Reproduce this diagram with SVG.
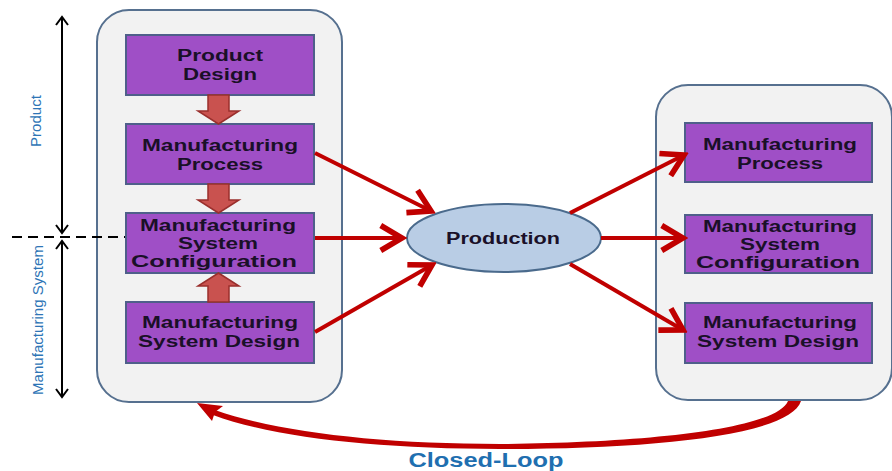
<svg xmlns="http://www.w3.org/2000/svg" width="892" height="471" viewBox="0 0 892 471">
<style>
.cont{fill:#f2f2f2;stroke:#56708f;stroke-width:2}
.box{fill:#9f4fc6;stroke:#4f5f8a;stroke-width:2}
.bt{font-family:"Liberation Sans",Arial,sans-serif;font-weight:bold;font-size:16px;fill:#1a1028;text-anchor:middle}
.blk{fill:#c9524f;stroke:#9a2f2d;stroke-width:1.5}
.red{stroke:#c00000;stroke-width:4;fill:none}
.side{font-family:"Liberation Sans",Arial,sans-serif;font-size:15px;fill:#2e75b6;text-anchor:middle}
</style>
<defs>
<marker id="rh" markerUnits="userSpaceOnUse" markerWidth="30" markerHeight="30" viewBox="-20 -12 24 24" refX="0" refY="0" orient="auto">
<path d="M-17,-10 L0,0 L-17,10" fill="none" stroke="#c00000" stroke-width="4.5"/>
</marker>
<marker id="bh" markerUnits="userSpaceOnUse" markerWidth="16" markerHeight="16" viewBox="-10 -8 12 16" refX="0" refY="0" orient="auto-start-reverse">
<path d="M-8,-6 L0,0 L-8,6" fill="none" stroke="#000" stroke-width="2"/>
</marker>
</defs>
<rect width="892" height="471" fill="#fff"/>
<g id="left-container"><rect class="cont" x="97" y="10" width="245" height="392" rx="32"/></g>
<g id="right-container"><rect class="cont" x="656" y="85" width="236" height="315" rx="32"/></g>
<g id="axis">
<line x1="62" y1="17" x2="62" y2="233" stroke="#000" stroke-width="2" marker-start="url(#bh)" marker-end="url(#bh)"/>
<line x1="62" y1="241" x2="62" y2="397" stroke="#000" stroke-width="2" marker-start="url(#bh)" marker-end="url(#bh)"/>
<line x1="12" y1="237" x2="126" y2="237" stroke="#000" stroke-width="2" stroke-dasharray="10,6"/>
<text class="side" transform="translate(41,121) rotate(-90)" textLength="52" lengthAdjust="spacingAndGlyphs">Product</text>
<text class="side" transform="translate(43,320) rotate(-90)" textLength="150" lengthAdjust="spacingAndGlyphs">Manufacturing System</text>
</g>
<g id="product-design"><rect class="box" x="126" y="35" width="188" height="60"/>
<text class="bt" x="220" y="61" textLength="86" lengthAdjust="spacingAndGlyphs">Product</text>
<text class="bt" x="220" y="80" textLength="74" lengthAdjust="spacingAndGlyphs">Design</text></g>
<g id="mfg-process-l"><rect class="box" x="126" y="124" width="188" height="60"/>
<text class="bt" x="220" y="151" textLength="156" lengthAdjust="spacingAndGlyphs">Manufacturing</text>
<text class="bt" x="220" y="170" textLength="86" lengthAdjust="spacingAndGlyphs">Process</text></g>
<g id="msc-l"><rect class="box" x="126" y="213" width="188" height="60"/>
<text class="bt" x="218" y="231" textLength="156" lengthAdjust="spacingAndGlyphs">Manufacturing</text>
<text class="bt" x="218" y="249" textLength="80" lengthAdjust="spacingAndGlyphs">System</text>
<text class="bt" x="214" y="267" textLength="166" lengthAdjust="spacingAndGlyphs">Configuration</text></g>
<g id="msd-l"><rect class="box" x="126" y="302" width="188" height="61"/>
<text class="bt" x="220" y="328" textLength="156" lengthAdjust="spacingAndGlyphs">Manufacturing</text>
<text class="bt" x="219" y="347" textLength="162" lengthAdjust="spacingAndGlyphs">System Design</text></g>
<g id="block-arrows">
<path class="blk" d="M208,95 H229 V111 H239 L218.5,124 L198,111 H208 Z"/>
<path class="blk" d="M208,184 H229 V200 H239 L218.5,213 L198,200 H208 Z"/>
<path class="blk" d="M208,302 H229 V286 H239 L218.5,273 L198,286 H208 Z"/>
</g>
<g id="production"><ellipse cx="504" cy="238" rx="97" ry="34" fill="#b9cde5" stroke="#4a6a8c" stroke-width="2"/>
<text class="bt" x="503" y="244" textLength="114" lengthAdjust="spacingAndGlyphs">Production</text></g>
<g id="mfg-process-r"><rect class="box" x="685" y="123" width="187" height="59"/>
<text class="bt" x="780" y="150" textLength="154" lengthAdjust="spacingAndGlyphs">Manufacturing</text>
<text class="bt" x="780" y="169" textLength="86" lengthAdjust="spacingAndGlyphs">Process</text></g>
<g id="msc-r"><rect class="box" x="685" y="215" width="187" height="58"/>
<text class="bt" x="780" y="232" textLength="154" lengthAdjust="spacingAndGlyphs">Manufacturing</text>
<text class="bt" x="780" y="250" textLength="80" lengthAdjust="spacingAndGlyphs">System</text>
<text class="bt" x="778" y="268" textLength="164" lengthAdjust="spacingAndGlyphs">Configuration</text></g>
<g id="msd-r"><rect class="box" x="685" y="303" width="187" height="60"/>
<text class="bt" x="780" y="328" textLength="154" lengthAdjust="spacingAndGlyphs">Manufacturing</text>
<text class="bt" x="778" y="347" textLength="162" lengthAdjust="spacingAndGlyphs">System Design</text></g>
<g id="connectors">
<line class="red" x1="315" y1="153" x2="431" y2="211" marker-end="url(#rh)"/>
<line class="red" x1="315" y1="238" x2="402" y2="238" marker-end="url(#rh)"/>
<line class="red" x1="315" y1="332" x2="432" y2="265" marker-end="url(#rh)"/>
<line class="red" x1="570" y1="213" x2="684" y2="155" marker-end="url(#rh)"/>
<line class="red" x1="601" y1="238" x2="683" y2="238" marker-end="url(#rh)"/>
<line class="red" x1="570" y1="264" x2="683" y2="330" marker-end="url(#rh)"/>
<path d="M801,401 C790,436 650,449 500,449 C380,449 275,438 213,415 L215,410 C277,432 380,444 500,444 C640,443 776,430 788,401 Z" fill="#c00000"/>
<path d="M197,403 L223,406 L215,412 L212,421 Z" fill="#c00000"/>
</g>
<text x="486" y="467" font-family="Liberation Sans,Arial,sans-serif" font-weight="bold" font-size="20" fill="#1f6fb0" text-anchor="middle" textLength="155" lengthAdjust="spacingAndGlyphs">Closed-Loop</text>
</svg>
